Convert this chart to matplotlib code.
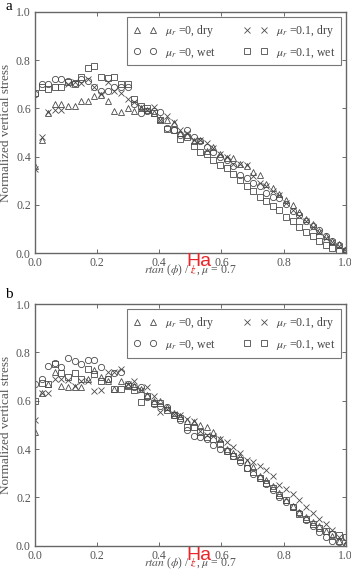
import matplotlib
matplotlib.use('Agg')
import matplotlib.pyplot as plt

plt.rcParams['font.family'] = ['Liberation Serif', 'DejaVu Serif']
plt.rcParams['mathtext.fontset'] = 'stix'

# posicao radial normalizada
x = [0.0, 0.021, 0.043, 0.064, 0.085, 0.106, 0.128, 0.149, 0.170, 0.191, 0.213, 0.234,
     0.255, 0.277, 0.298, 0.319, 0.340, 0.362, 0.383, 0.404, 0.426, 0.447, 0.468, 0.489,
     0.511, 0.532, 0.553, 0.574, 0.596, 0.617, 0.638, 0.660, 0.681, 0.702, 0.723, 0.745,
     0.766, 0.787, 0.809, 0.830, 0.851, 0.872, 0.894, 0.915, 0.936, 0.957, 0.979, 1.0]

# painel a
tri_a = [0.36, 0.47, 0.58, 0.62, 0.62, 0.61, 0.61, 0.63, 0.63, 0.65, 0.655, 0.63, 0.59, 0.585, 0.60, 0.59,
         0.60, 0.595, 0.58, 0.555, 0.55, 0.54, 0.50, 0.49, 0.465, 0.47, 0.425, 0.44, 0.41, 0.395, 0.395, 0.37,
         0.36, 0.335, 0.325, 0.285, 0.27, 0.245, 0.22, 0.20, 0.17, 0.14, 0.12, 0.093, 0.072, 0.05, 0.037, 0.017]
circ_a = [0.66, 0.70, 0.70, 0.72, 0.72, 0.715, 0.705, 0.72, 0.715, 0.69, 0.67, 0.67, 0.69, 0.69, 0.69, 0.62,
          0.58, 0.59, 0.59, 0.585, 0.52, 0.51, 0.49, 0.51, 0.48, 0.465, 0.44, 0.42, 0.40, 0.385, 0.36, 0.325,
          0.31, 0.29, 0.28, 0.25, 0.235, 0.23, 0.205, 0.175, 0.16, 0.135, 0.115, 0.095, 0.07, 0.05, 0.035, 0.015]
cross_a = [0.35, 0.48, 0.585, 0.595, 0.595, 0.70, 0.71, 0.705, 0.72, 0.69, 0.66, 0.71, 0.67, 0.665, 0.64, 0.625,
           0.605, 0.595, 0.605, 0.55, 0.57, 0.545, 0.51, 0.50, 0.47, 0.47, 0.455, 0.435, 0.41, 0.40, 0.37, 0.37,
           0.365, 0.32, 0.29, 0.28, 0.26, 0.24, 0.21, 0.18, 0.155, 0.135, 0.11, 0.09, 0.065, 0.045, 0.03, 0.01]
sq_a = [0.665, 0.69, 0.68, 0.69, 0.69, 0.71, 0.70, 0.73, 0.765, 0.775, 0.73, 0.725, 0.73, 0.70, 0.70, 0.64,
        0.61, 0.60, 0.58, 0.55, 0.515, 0.51, 0.475, 0.48, 0.445, 0.42, 0.41, 0.385, 0.365, 0.355, 0.33, 0.305,
        0.28, 0.26, 0.235, 0.215, 0.195, 0.18, 0.15, 0.135, 0.11, 0.09, 0.07, 0.05, 0.035, 0.02, 0.01, 0.01]

# painel b
tri_b = [0.47, 0.63, 0.67, 0.72, 0.66, 0.655, 0.655, 0.655, 0.69, 0.725, 0.70, 0.68, 0.65, 0.68, 0.665, 0.66,
         0.65, 0.625, 0.60, 0.60, 0.575, 0.55, 0.535, 0.515, 0.51, 0.50, 0.49, 0.47, 0.44, 0.40, 0.385, 0.365,
         0.345, 0.325, 0.29, 0.27, 0.245, 0.22, 0.19, 0.165, 0.14, 0.12, 0.10, 0.08, 0.06, 0.04, 0.02, 0.005]
circ_b = [0.67, 0.69, 0.745, 0.755, 0.74, 0.775, 0.765, 0.75, 0.77, 0.77, 0.74, 0.69, 0.715, 0.72, 0.67, 0.655,
          0.655, 0.615, 0.585, 0.58, 0.575, 0.54, 0.52, 0.48, 0.455, 0.45, 0.44, 0.415, 0.40, 0.39, 0.37, 0.345,
          0.32, 0.295, 0.28, 0.255, 0.23, 0.20, 0.18, 0.16, 0.135, 0.105, 0.08, 0.055, 0.035, 0.02, 0.015, 0.0]
cross_b = [0.52, 0.63, 0.63, 0.69, 0.69, 0.685, 0.66, 0.68, 0.68, 0.64, 0.645, 0.72, 0.72, 0.73, 0.67, 0.68,
           0.645, 0.655, 0.62, 0.555, 0.565, 0.545, 0.54, 0.525, 0.515, 0.475, 0.46, 0.455, 0.44, 0.43, 0.41, 0.385,
           0.355, 0.345, 0.33, 0.315, 0.29, 0.25, 0.235, 0.215, 0.19, 0.16, 0.135, 0.11, 0.09, 0.065, 0.035, 0.02]
sq_b = [0.60, 0.675, 0.67, 0.75, 0.715, 0.70, 0.715, 0.69, 0.73, 0.71, 0.68, 0.69, 0.65, 0.65, 0.66, 0.645,
        0.595, 0.62, 0.59, 0.59, 0.56, 0.54, 0.53, 0.49, 0.49, 0.47, 0.45, 0.44, 0.42, 0.39, 0.37, 0.355,
        0.32, 0.305, 0.28, 0.26, 0.24, 0.21, 0.19, 0.16, 0.13, 0.11, 0.09, 0.075, 0.06, 0.05, 0.045, 0.035]

rotulos = [r'$\mu_r$ =0, dry', r'$\mu_r$ =0, wet', r'$\mu_r$ =0.1, dry', r'$\mu_r$ =0.1, wet']
ticks = [0.0, 0.2, 0.4, 0.6, 0.8, 1.0]

cinza = '#4a4a4a'
fig = plt.figure(figsize=(3.51, 5.76), dpi=100)
ax_a = fig.add_axes([0.0997, 0.5602, 0.885, 0.4195])
ax_b = fig.add_axes([0.0997, 0.0526, 0.885, 0.4196])


def painel(ax, tri, circ, cross, sq):
    kw = dict(linestyle='none', markersize=4.5, markeredgewidth=0.6, color=cinza, markerfacecolor='none')
    ax.plot(x, tri, marker='^', label=rotulos[0], **kw)
    ax.plot(x, circ, marker='o', label=rotulos[1], **kw)
    ax.plot(x, cross, marker='x', label=rotulos[2], **kw)
    ax.plot(x, sq, marker='s', label=rotulos[3], **kw)
    ax.set_xlim(0, 1)
    ax.set_ylim(0, 1)
    ax.set_xticks(ticks)
    ax.set_yticks(ticks)
    ax.set_xticklabels(['%.1f' % t for t in ticks])
    ax.set_yticklabels(['%.1f' % t for t in ticks])
    ax.tick_params(direction='in', length=3, width=0.6, labelsize=8.5, colors='#555555',
                   top=True, right=True, pad=3)
    for s in ax.spines.values():
        s.set_color('#666666')
        s.set_linewidth(1.0)
    ax.set_ylabel('Normalized vertical stress', fontsize=9.5, color='#555555', labelpad=3)
    leg = ax.legend(ncol=2, numpoints=2, loc='upper right', bbox_to_anchor=(0.985, 0.978),
                    fontsize=8.5, frameon=True, fancybox=False, handlelength=2.0,
                    columnspacing=2.4, handletextpad=0.7, borderpad=0.5, labelspacing=0.6,
                    borderaxespad=0)
    leg.get_frame().set_edgecolor('#555555')
    leg.get_frame().set_linewidth(0.8)
    for t in leg.get_texts():
        t.set_color('#444444')


painel(ax_a, tri_a, circ_a, cross_a, sq_a)
painel(ax_b, tri_b, circ_b, cross_b, sq_b)

fig.text(5 / 351, 1 - 7 / 576, 'a', fontsize=11, va='center', ha='left')
fig.text(5 / 351, 1 - 295 / 576, 'b', fontsize=11, va='center', ha='left')

# rotulo do eixo x em pedacos (o z aparece riscado em vermelho)
renderer = fig.canvas.get_renderer()
for y_lab, y_ha in [(270, 262), (563, 555)]:
    partes = [(r'$rtan$ ($\phi$) / ', '#555555'), (r'$z$', '#e02020'), (r', $\mu$ = 0.7', '#555555')]
    textos = [fig.text(0, 1 - y_lab / 576, p, fontsize=8.5, color=c, va='center', ha='left')
              for p, c in partes]
    larguras = [t.get_window_extent(renderer).width for t in textos]
    x0 = 190.5 - sum(larguras) / 2
    for t, w in zip(textos, larguras):
        t.set_x(x0 / 351)
        x0 += w
    zx = (190.5 - sum(larguras) / 2 + larguras[0] + larguras[1] / 2) / 351
    fig.text(zx, 1 - y_lab / 576, '/', fontsize=8.5, color='#e02020', va='center', ha='center')
    fig.text(199 / 351, 1 - y_ha / 576, 'Ha', fontsize=14, color='#e8262a',
             family='Liberation Sans', va='center', ha='center')

fig.savefig('out.png', dpi=100)
